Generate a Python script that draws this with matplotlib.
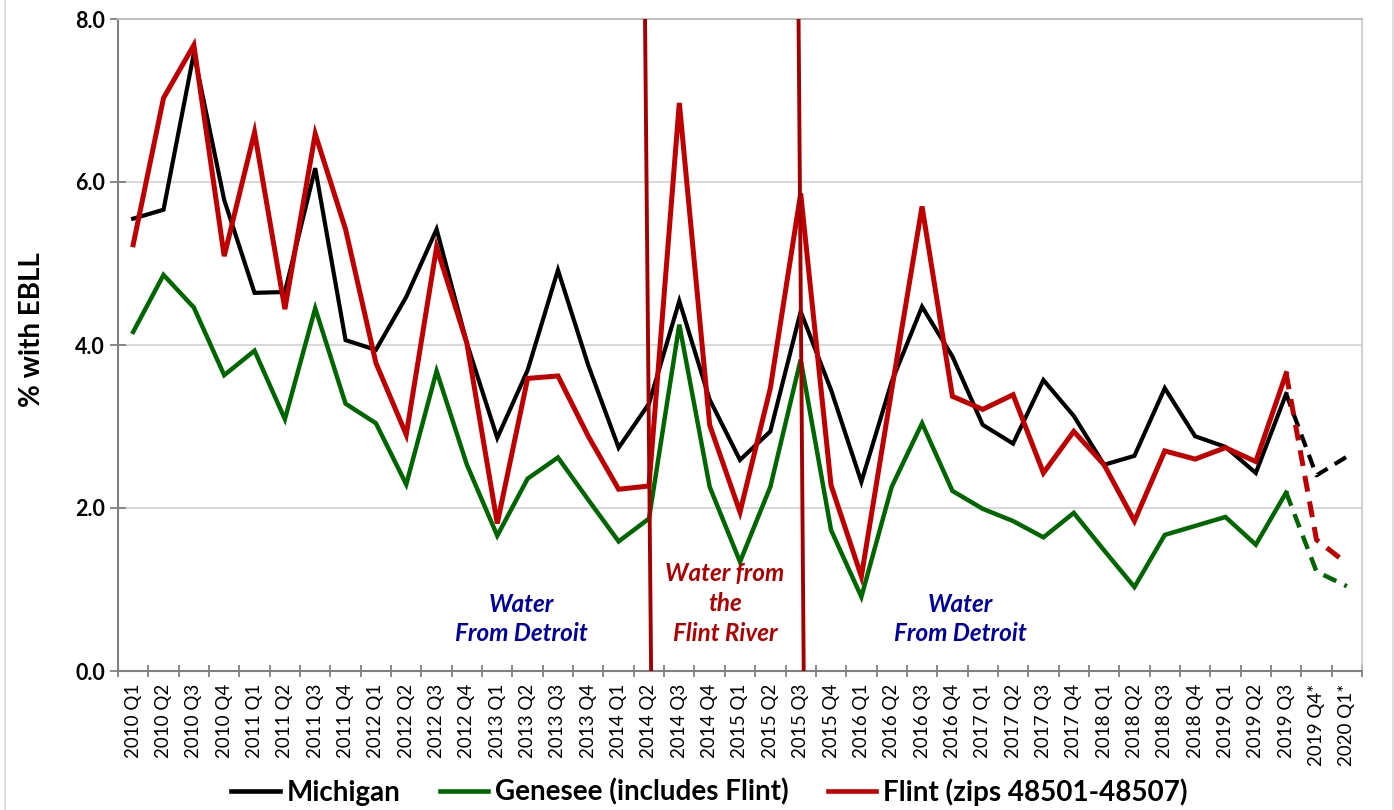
import matplotlib
matplotlib.use("Agg")
import matplotlib.pyplot as plt
from matplotlib.lines import Line2D

plt.rcParams['font.family'] = ['Lato', 'DejaVu Sans']

quarters = ["2010 Q1", "2010 Q2", "2010 Q3", "2010 Q4", "2011 Q1", "2011 Q2", "2011 Q3", "2011 Q4",
            "2012 Q1", "2012 Q2", "2012 Q3", "2012 Q4", "2013 Q1", "2013 Q2", "2013 Q3", "2013 Q4",
            "2014 Q1", "2014 Q2", "2014 Q3", "2014 Q4", "2015 Q1", "2015 Q2", "2015 Q3", "2015 Q4",
            "2016 Q1", "2016 Q2", "2016 Q3", "2016 Q4", "2017 Q1", "2017 Q2", "2017 Q3", "2017 Q4",
            "2018 Q1", "2018 Q2", "2018 Q3", "2018 Q4", "2019 Q1", "2019 Q2", "2019 Q3", "2019 Q4*",
            "2020 Q1*"]

michigan = [5.55, 5.66, 7.58, 5.78, 4.64, 4.65, 6.17, 4.06, 3.94, 4.59, 5.42, 4.02, 2.86, 3.69,
            4.92, 3.75, 2.74, 3.28, 4.54, 3.33, 2.59, 2.94, 4.41, 3.45, 2.32, 3.55, 4.47, 3.86,
            3.02, 2.79, 3.57, 3.13, 2.53, 2.64, 3.47, 2.88, 2.75, 2.43, 3.40, 2.40, 2.63]
genesee = [4.16, 4.86, 4.46, 3.63, 3.93, 3.09, 4.45, 3.28, 3.04, 2.29, 3.68, 2.53, 1.66, 2.36,
           2.62, 2.10, 1.59, 1.87, 4.25, 2.26, 1.34, 2.26, 3.82, 1.73, 0.91, 2.26, 3.04, 2.21,
           1.99, 1.84, 1.64, 1.94, 1.48, 1.03, 1.67, 1.78, 1.89, 1.55, 2.19, 1.22, 1.04]
flint = [5.23, 7.03, 7.68, 5.09, 6.61, 4.44, 6.59, 5.42, 3.78, 2.90, 5.20, 4.02, 1.81, 3.59,
         3.62, 2.88, 2.23, 2.27, 6.97, 3.02, 1.95, 3.47, 5.86, 2.28, 1.16, 3.45, 5.70, 3.37,
         3.21, 3.39, 2.43, 2.94, 2.53, 1.84, 2.70, 2.60, 2.74, 2.57, 3.65, 1.61, 1.32]

series_names = ["Michigan", "Genesee (includes Flint)", "Flint (zips 48501-48507)"]
series_colors = ["#000000", "#006600", "#C00000"]
series_widths = [3.0, 3.2, 3.6]
n_solid = 39  # points through 2019 Q3 are solid; last two are provisional (dashed)

fig = plt.figure(figsize=(13.94, 8.10), dpi=100)
ax = fig.add_axes([118/1394, 1-671/810, (1362-118)/1394, (671-19)/810])

# outer chart border (left and right edges visible)
for xe in (5/1394, 1392.5/1394):
    fig.add_artist(Line2D([xe, xe], [0, 1], color="#D9D9D9", lw=1.2, transform=fig.transFigure))

x = list(range(len(quarters)))
for vals, col, lw in zip([michigan, genesee, flint], series_colors, series_widths):
    ax.plot(x[:n_solid], vals[:n_solid], color=col, lw=lw, solid_joinstyle='miter', zorder=3)
    ax.plot(x[n_solid-1:], vals[n_solid-1:], color=col, lw=lw, ls=(0, (3.2, 2.0)), zorder=3)

# water-source change markers
ax.plot([16.87, 17.07], [8.0, 0.0], color="#A50000", lw=2.8, zorder=4)
ax.plot([21.93, 22.10], [8.0, 0.0], color="#A50000", lw=2.8, zorder=4)

txt_kw = dict(ha='center', va='center', fontsize=17.5, fontweight='bold', fontstyle='italic',
              linespacing=1.35)
ax.text(12.8, 0.64, "Water\nFrom Detroit", color="#0000A0", **txt_kw)
ax.text(27.25, 0.64, "Water\nFrom Detroit", color="#0000A0", **txt_kw)
ax.text(19.5, 0.83, "Water from\nthe\nFlint River", color="#B00000", **txt_kw)

ax.set_xlim(-0.5, len(quarters) - 0.5)
ax.set_ylim(0, 8)
ax.set_yticks([0, 2, 4, 6, 8])
ax.set_yticklabels(["0.0", "2.0", "4.0", "6.0", "8.0"], fontsize=15.5, fontweight='bold')
ax.yaxis.grid(True, color="#D9D9D9", lw=1.5)
ax.set_axisbelow(True)
ax.set_ylabel("% with EBLL", fontsize=20, fontweight='bold')
ax.yaxis.set_label_coords(-0.059, 0.523)

ax.set_xticks(x)
ax.set_xticklabels(quarters, rotation=90, fontsize=13.5)
ax.tick_params(axis='x', length=0, pad=9)
ax.set_xticks([i - 0.5 for i in range(len(quarters) + 1)], minor=True)
ax.tick_params(axis='x', which='minor', direction='inout', length=9, width=1.3, color="#808080")
ax.tick_params(axis='y', direction='inout', length=11, width=1.3, color="#808080", pad=4)

for s in ['left', 'bottom']:
    ax.spines[s].set_color("#808080")
    ax.spines[s].set_linewidth(1.5)
ax.spines['right'].set_color("#C8C8C8")
ax.spines['right'].set_linewidth(1.2)
ax.spines['top'].set_color("#BFBFBF")
ax.spines['top'].set_linewidth(1.5)

handles = [Line2D([0], [0], color=c, lw=3.3) for c in series_colors]
leg = fig.legend(handles, series_names, loc='center', bbox_to_anchor=((709.5)/1394, 1-792/810), ncol=3,
                 frameon=False, handlelength=1.75, handletextpad=0.25, columnspacing=1.4,
                 prop={'size': 20, 'weight': 'bold'})

fig.savefig("out.png", dpi=100)
